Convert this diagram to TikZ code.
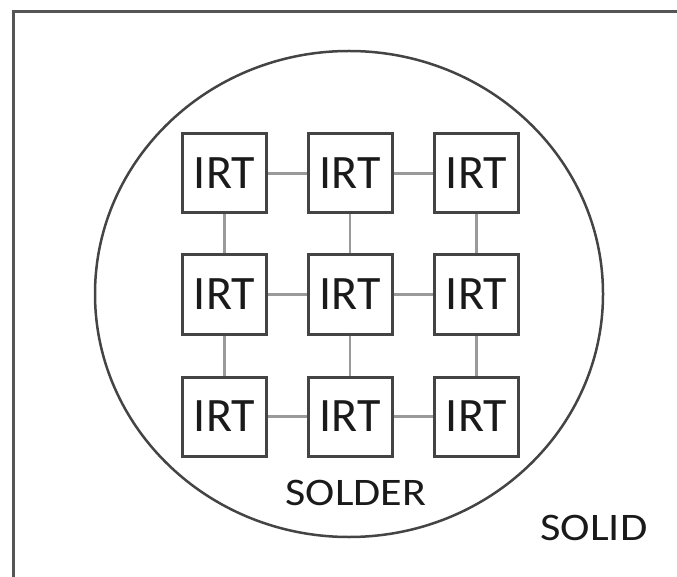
\documentclass[tikz,border=0pt]{standalone}
\usepackage{fontspec}
\setmainfont{Carlito}
\definecolor{framec}{HTML}{555555}
\definecolor{boxc}{HTML}{444444}
\definecolor{linkc}{HTML}{9A9A9A}
\definecolor{textc}{HTML}{1A1A1A}
\begin{document}
\begin{tikzpicture}[x=1pt,y=-1pt,
  irt/.style={draw=boxc,line width=3pt,minimum width=84pt,minimum height=79pt,inner sep=0pt,
    font=\fontsize{48}{48}\selectfont,text=textc},
  link/.style={draw=linkc,line width=2.5pt},
  lbl/.style={font=\fontsize{39}{39}\selectfont,text=textc,inner sep=0pt,anchor=base}]
\useasboundingbox (0,0) rectangle (677,577);
\draw[framec,line width=3pt] (13.5,580) -- (13.5,12) -- (680,12);
\draw[boxc,line width=2.5pt] (349,294) ellipse [x radius=254,y radius=243];
\foreach \c/\x in {1/224.5,2/350,3/476.5}{
  \foreach \r/\y in {1/173.5,2/294.5,3/416.5}{
    \node[irt] (b\r\c) at (\x,\y) {IRT};
  }
}
\foreach \r in {1,2,3}{
  \draw[link] (b\r1) -- (b\r2);
  \draw[link] (b\r2) -- (b\r3);
}
\foreach \c in {1,2,3}{
  \draw[link] (b1\c) -- (b2\c);
  \draw[link] (b2\c) -- (b3\c);
}
\node[lbl] (solder) at (356,505) {\scalebox{1.13}[1]{SOLDER}};
\node[lbl] (solid) at (594,540) {\scalebox{1.14}[1]{SOLID}};
\end{tikzpicture}
\end{document}
